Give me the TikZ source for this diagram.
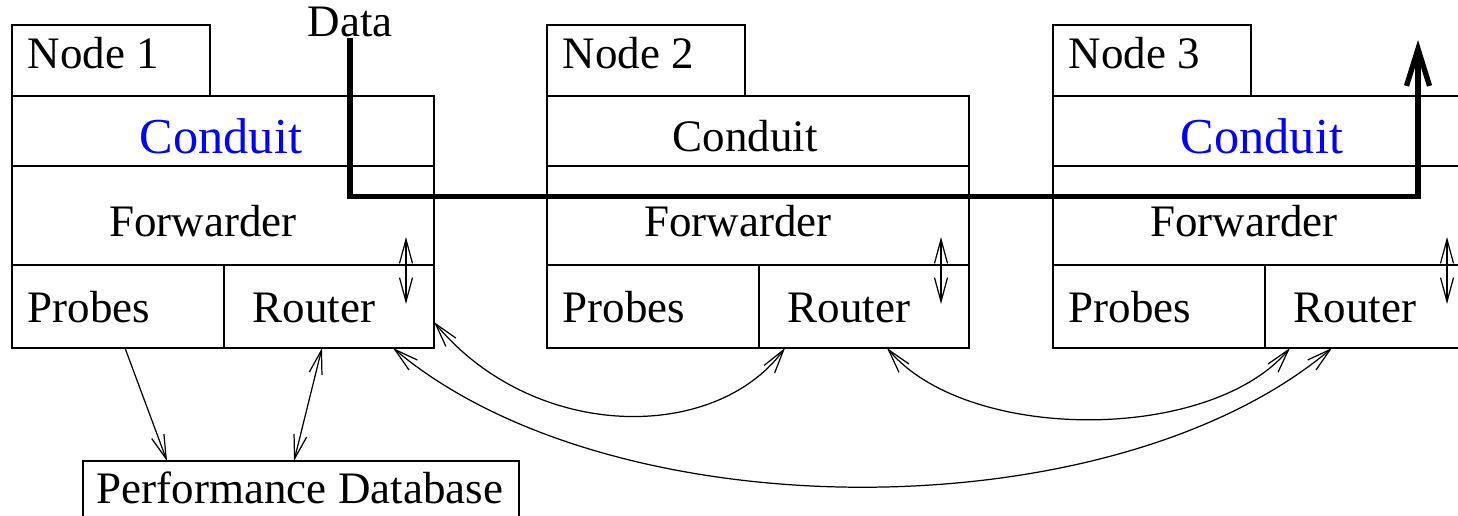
\documentclass[tikz,border=0pt]{standalone}
\usepackage{fontspec}
\setmainfont{Liberation Serif}
\usetikzlibrary{arrows.meta,calc}
\newlength\px \setlength\px{0.01cm}
\newcommand\figfont{\fontsize{12.8pt}{15pt}\selectfont}

\begin{document}
\begin{tikzpicture}[x=1\px,y=-1\px,
  box/.style={draw,line width=0.45pt,inner sep=0pt,outer sep=0pt,anchor=north west},
  txt/.style={inner sep=0pt,font=\figfont},
  one/.style={-{Straight Barb[length=2.4mm,width=1.3mm]},line width=0.35pt},
  two/.style={{Straight Barb[length=2.4mm,width=1.3mm]}-{Straight Barb[length=2.4mm,width=1.3mm]},line width=0.35pt},
  flow/.style={-{Straight Barb[length=3.7mm,width=2.3mm]},line width=1.5pt}]
\path[use as bounding box,clip] (0,0) rectangle (1458,515);

% three hosts: name tab, conduit, forwarder, probes + router
\foreach \i/\ox/\col/\sz/\cx/\cy in {1/0/blue/14.3/221/153, 2/535/black/12.8/210/151, 3/1041/blue/14.3/221/153} {
  \node[box,minimum width=198\px,minimum height=71\px] (tab\i) at (\ox+12,25) {};
  \node[box,minimum width=422\px,minimum height=70\px] (cond\i) at (tab\i.south west) {};
  \node[box,minimum width=422\px,minimum height=99\px] (fwd\i) at (cond\i.south west) {};
  \node[box,minimum width=212\px,minimum height=83\px] (probe\i) at (fwd\i.south west) {};
  \node[box,minimum width=210\px,minimum height=83\px] (router\i) at (probe\i.north east) {};
  \node[txt,anchor=base west] (name\i) at (\ox+27,68) {Node \i};
  \node[txt,anchor=base,text=\col,font=\fontsize{\sz pt}{17pt}\selectfont] (condtxt\i) at (\ox+\cx,\cy) {Conduit};
  \node[txt,anchor=base] (fwdtxt\i) at (\ox+203,236) {Forwarder};
  \node[txt,anchor=base west] (probetxt\i) at (\ox+27,322) {Probes};
  \node[txt,anchor=base west] (routertxt\i) at (\ox+252,322) {Router};
  \draw[two] ($(router\i.north east)+(-28,-28)$) -- ($(router\i.north east)+(-28,39)$);
}

\node[box,minimum width=436\px,minimum height=80\px] (db) at (83,461) {};
\node[txt,anchor=base] (dbtxt) at (300,503) {Performance Database};

% data path through the conduits
\node[txt,anchor=base] (data) at (350,37) {Data};
\coordinate (sink) at (1418,40);
\draw[flow] (data.south) -- ++(0,158) -| (sink);

\draw[one] ($(probe1.south west)+(113,0)$) -- ($(db.north west)+(84,0)$);
\draw[two] ($(router1.south west)+(98,0)$) -- ($(db.north west)+(211,0)$);

% router to router links
\draw[two] ($(router1.south east)+(0,-26)$) .. controls +(100,120) and +(-70,95) .. ($(router2.south west)+(26,0)$);
\draw[two] ($(router2.south west)+(128,0)$) .. controls +(80,95) and +(-80,95) .. ($(router3.south west)+(25,0)$);
\draw[two] ($(router1.south west)+(169,0)$) .. controls +(220,185) and +(-220,185) .. ($(router3.south west)+(67,0)$);
\end{tikzpicture}
\end{document}
